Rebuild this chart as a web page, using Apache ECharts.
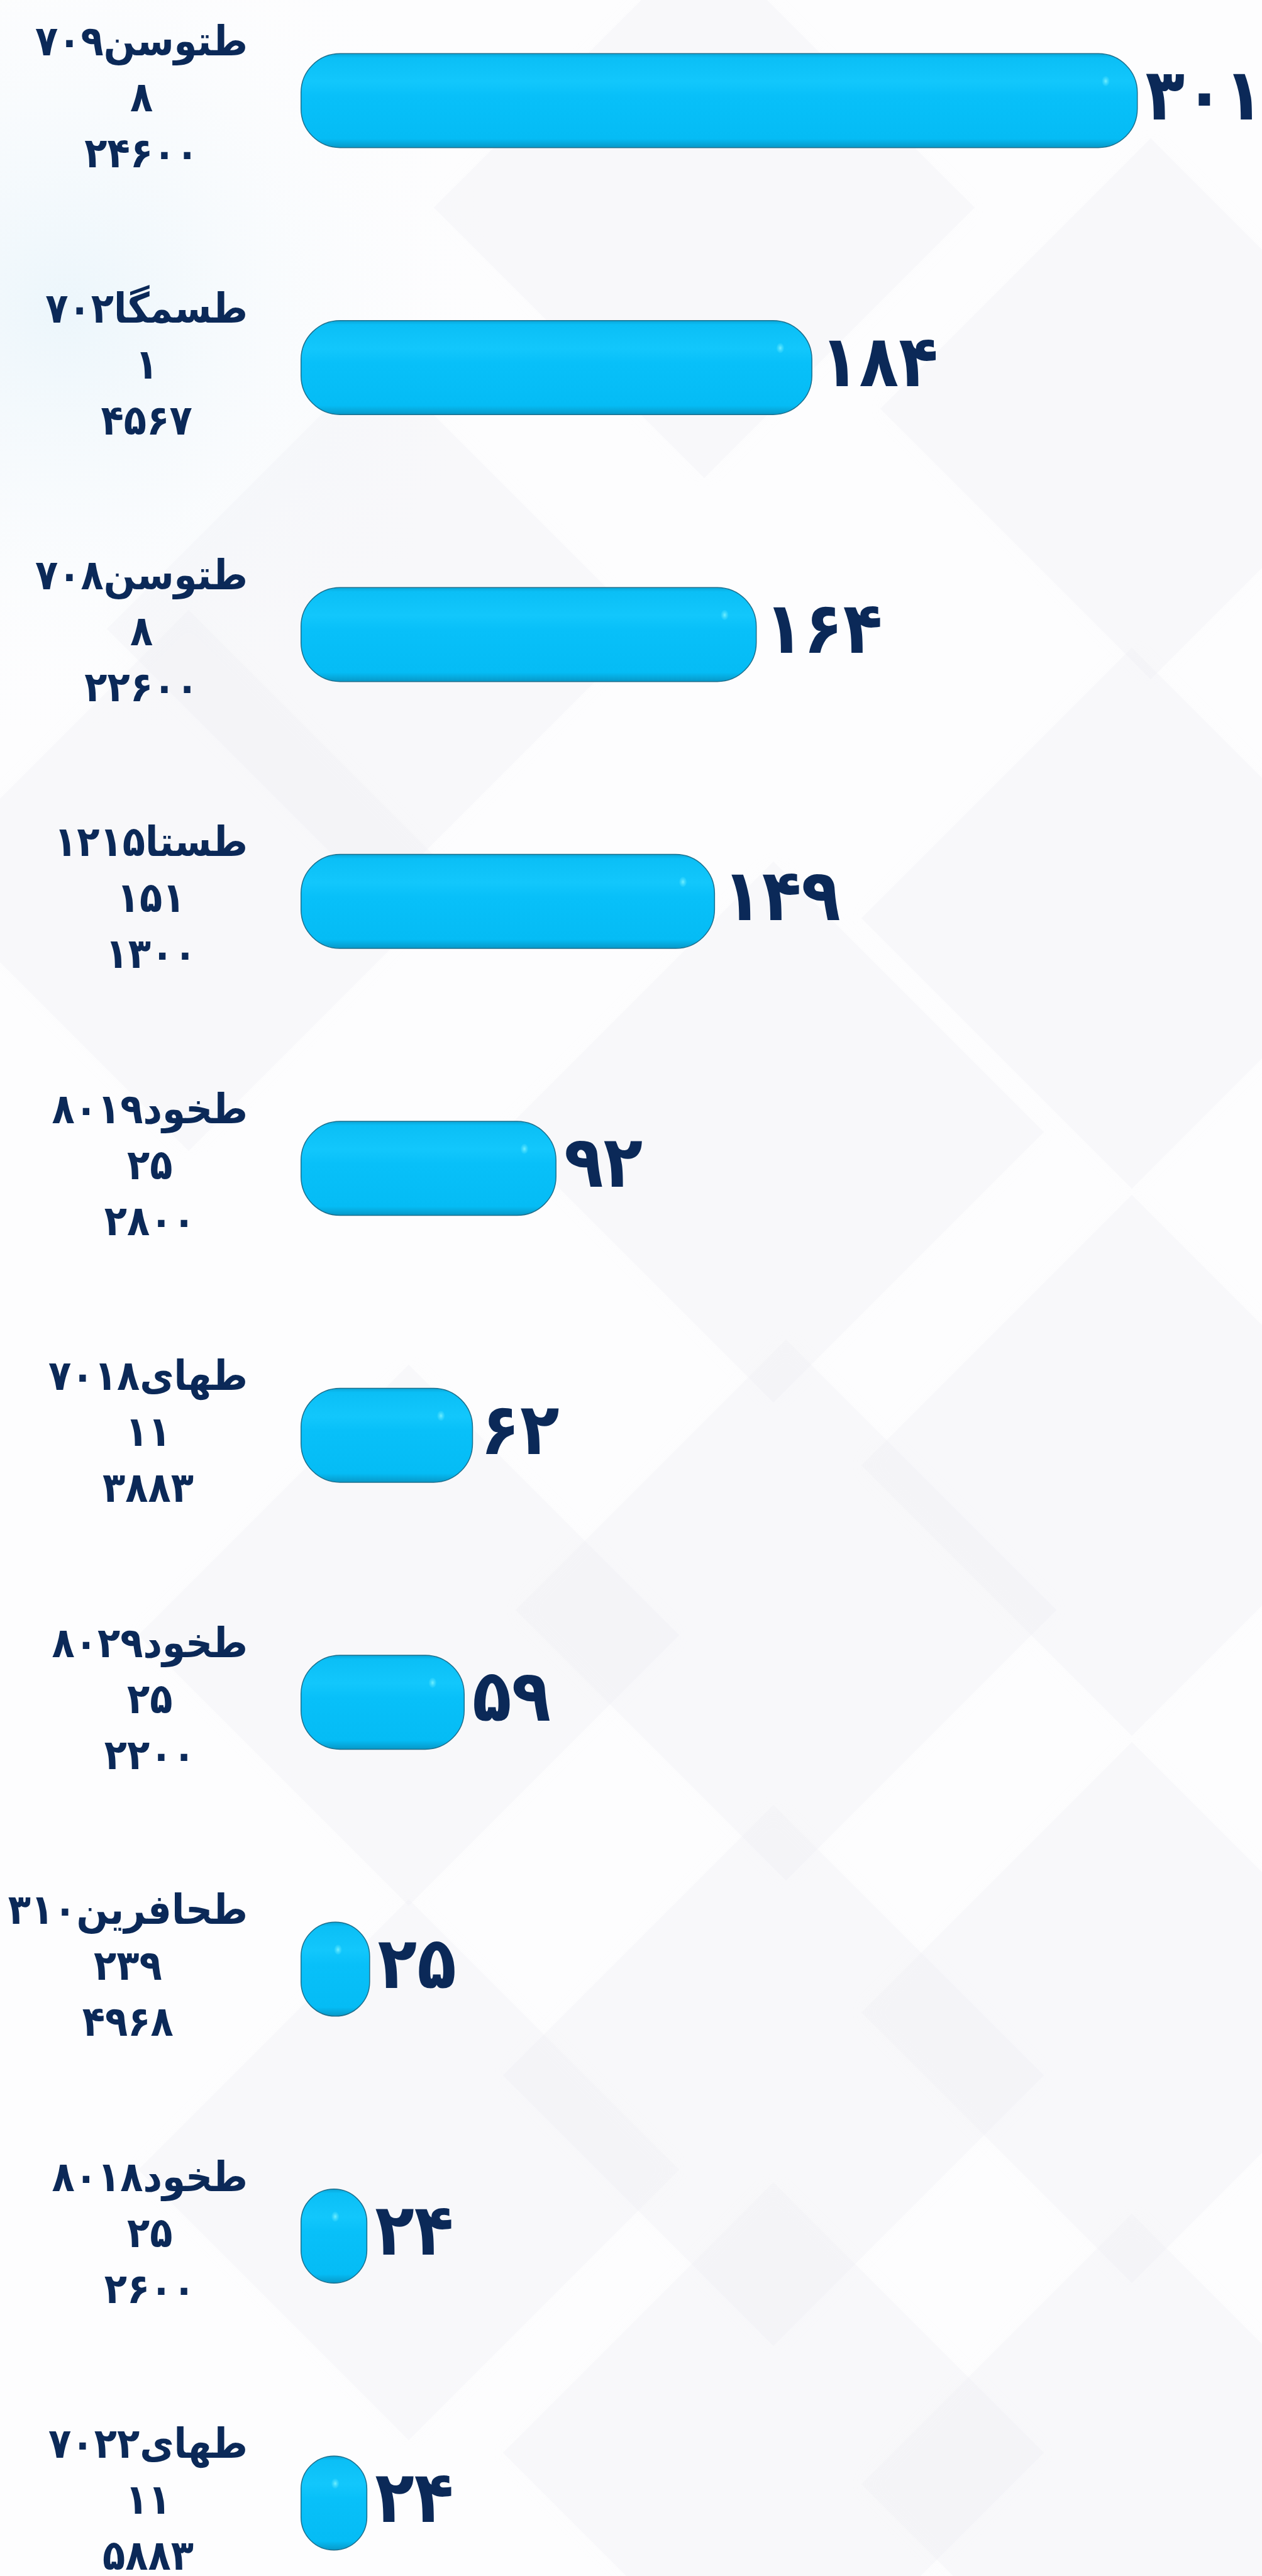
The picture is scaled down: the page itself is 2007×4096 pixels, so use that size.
<!DOCTYPE html>
<html><head><meta charset="utf-8">
<script src="https://cdn.jsdelivr.net/npm/echarts@6/dist/echarts.min.js"></script>
<style>html,body{margin:0;padding:0;background:#fdfdfe}#c{width:2007px;height:4096px}</style>
</head><body><div id="c"></div>
<script>
const names = ['طتوسن۷۰۹','طسمگا۷۰۲','طتوسن۷۰۸','طستا۱۲۱۵','طخود۸۰۱۹','طهای۷۰۱۸','طخود۸۰۲۹','طحافرین۳۱۰','طخود۸۰۱۸','طهای۷۰۲۲'];
const secondLine = ['۸','۱','۸','۱۵۱','۲۵','۱۱','۲۵','۲۳۹','۲۵','۱۱'];
const thirdLine = ['۲۴۶۰۰','۴۵۶۷','۲۲۶۰۰','۱۳۰۰','۲۸۰۰','۳۸۸۳','۲۲۰۰','۴۹۶۸','۲۶۰۰','۵۸۸۳'];
const values = [301,184,164,149,92,62,59,25,24,24];

const fa = s => String(s).replace(/\d/g, d => '۰۱۲۳۴۵۶۷۸۹'[d]);
const NAVY = '#0b2958';
const FONT = "'DejaVu Sans Condensed', 'DejaVu Sans', sans-serif";

// faint decorative diamonds in background
const diamonds = [
  [1120,330,430],[1830,650,430],[600,1000,430],
  [1230,1800,430],[1800,1460,430],[650,2600,430],
  [1250,2560,430],[1800,2330,430],[1230,3300,430],
  [1800,3200,430],[650,3450,430],[1230,3900,430],
  [1800,3950,430],[300,1400,430]
];
const graphic = diamonds.map(d => ({
  type:'polygon', z:-10, silent:true,
  shape:{points:[[d[0],d[1]-d[2]],[d[0]+d[2],d[1]],[d[0],d[1]+d[2]],[d[0]-d[2],d[1]]]},
  style:{fill:'rgba(236,236,244,0.25)', shadowBlur:30, shadowColor:'rgba(236,236,244,0.25)'}
}));
graphic.unshift({type:'rect', z:-11, silent:true, shape:{x:0,y:0,width:2007,height:4096},
  style:{fill:{type:'radial',x:0.05,y:0.12,r:0.35,colorStops:[{offset:0,color:'rgba(234,245,251,0.9)'},{offset:1,color:'rgba(253,253,254,0)'}]}}});

const chart = echarts.init(document.getElementById('c'), null, {renderer:'canvas'});
chart.setOption({
  backgroundColor:'#fdfdfe',
  animation:false,
  graphic: graphic,
  grid:{left:478, right:25, top:160, bottom:116, containLabel:false, outerBoundsMode:'none'},
  xAxis:{type:'value', min:0, max:340, show:false},
  yAxis:{type:'category', data:names, inverse:true, boundaryGap:false,
    axisLine:{show:false}, axisTick:{show:false}, splitLine:{show:false},
    axisLabel:{margin:84, align:'right', color:NAVY, fontFamily:FONT, fontWeight:'bold', fontSize:66, lineHeight:89,
      formatter:(v,i)=> '{c|' + v + '}\n{c|' + secondLine[i] + '}\n{c|' + thirdLine[i] + '}',
      rich:{c:{align:'center', color:NAVY, fontFamily:FONT, fontWeight:'bold', fontSize:66, lineHeight:89}}
    }
  },
  series:[{
    type:'bar', data:values, barWidth:151, z:2,
    itemStyle:{
      borderRadius:62,
      borderColor:'#1c6f8d', borderWidth:1.5,
      color:{type:'linear',x:0,y:0,x2:0,y2:1,colorStops:[
        {offset:0,color:'#0aa4d6'},{offset:0.05,color:'#0bbff6'},{offset:0.3,color:'#12c7fc'},
        {offset:0.45,color:'#08c0f9'},{offset:0.9,color:'#05bcf5'},{offset:1,color:'#0797c6'}]}
    },
    label:{show:true, position:'right', distance:12, color:NAVY, fontFamily:FONT, fontWeight:'bold', fontSize:114,
      formatter: p => fa(p.value)}
  },{
    type:'scatter', z:3, silent:true,
    data: values.map((v,i)=>[v,i]),
    symbol:'circle', symbolSize:[12,16], symbolOffset:[-51,-31],
    itemStyle:{color:{type:'radial',x:0.5,y:0.5,r:0.5,colorStops:[{offset:0,color:'rgba(140,250,255,1)'},{offset:1,color:'rgba(80,225,255,0.2)'}]}}
  }]
});
</script></body></html>
